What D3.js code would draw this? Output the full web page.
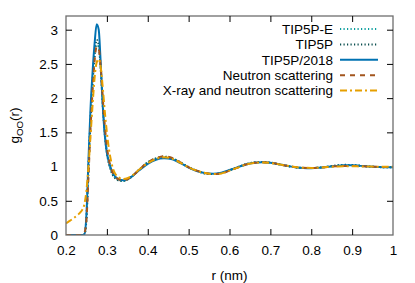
<!DOCTYPE html>
<html><head><meta charset="utf-8">
<script src="https://cdn.jsdelivr.net/npm/d3@7"></script>
<style>body{margin:0;background:#fff}svg{display:block}text{font-family:"Liberation Sans",Arial,sans-serif}</style>
</head><body>
<script>
const rValues = [0.20,0.21,0.22,0.23,0.235,0.24,0.245,0.25,0.255,0.26,0.265,0.27,0.275,0.28,0.285,0.29,0.295,0.30,0.305,0.31,0.315,0.32,0.33,0.34,0.35,0.36,0.38,0.40,0.42,0.44,0.46,0.48,0.50,0.52,0.54,0.56,0.58,0.60,0.62,0.64,0.66,0.68,0.70,0.72,0.74,0.76,0.78,0.80,0.82,0.84,0.86,0.88,0.90,0.92,0.94,0.96,0.98,1.00];
const tip5pE = [0,0,0,0,0,0,0.01,0.22,0.95,1.65,2.2,2.6,2.78,2.74,2.42,1.9,1.5,1.22,1.05,0.95,0.88,0.84,0.8,0.79,0.81,0.85,0.96,1.06,1.12,1.14,1.12,1.06,0.99,0.94,0.9,0.89,0.905,0.945,0.99,1.035,1.06,1.065,1.055,1.035,1.01,0.99,0.98,0.978,0.985,0.998,1.012,1.02,1.02,1.012,1.0,0.995,0.99,0.99];
const tip5p = [0,0,0,0,0,0,0.01,0.25,1.0,1.7,2.25,2.65,2.85,2.78,2.42,1.88,1.47,1.2,1.04,0.94,0.87,0.83,0.795,0.79,0.81,0.85,0.96,1.06,1.12,1.145,1.12,1.06,0.99,0.94,0.9,0.89,0.905,0.945,0.99,1.035,1.06,1.068,1.058,1.036,1.012,0.99,0.98,0.978,0.985,0.998,1.015,1.025,1.022,1.012,1.0,0.995,0.99,0.99];
const tip5p2018 = [0,0,0,0,0,0,0.01,0.3,1.1,1.85,2.38,2.8,3.08,3.0,2.5,1.88,1.45,1.2,1.07,0.97,0.9,0.855,0.81,0.80,0.815,0.85,0.95,1.04,1.1,1.12,1.105,1.05,0.985,0.935,0.905,0.895,0.91,0.95,0.99,1.03,1.055,1.063,1.055,1.035,1.01,0.99,0.979,0.976,0.983,0.996,1.01,1.02,1.02,1.01,1.0,0.995,0.99,0.99];
const neutron = [0,0,0,0,0,0.005,0.03,0.22,0.85,1.55,2.1,2.55,2.75,2.72,2.45,2.0,1.6,1.3,1.1,0.98,0.9,0.855,0.81,0.80,0.815,0.85,0.96,1.06,1.12,1.15,1.125,1.06,0.99,0.94,0.905,0.89,0.9,0.94,0.985,1.03,1.055,1.062,1.055,1.035,1.012,0.993,0.982,0.98,0.985,0.995,1.005,1.01,1.01,1.005,1.0,0.997,0.995,0.995];
const xray = [0.17,0.21,0.25,0.3,0.33,0.37,0.45,0.65,1.0,1.45,1.9,2.3,2.52,2.57,2.45,2.15,1.8,1.5,1.26,1.09,0.97,0.9,0.84,0.82,0.83,0.86,0.96,1.05,1.11,1.135,1.115,1.055,0.99,0.94,0.905,0.89,0.9,0.94,0.985,1.028,1.052,1.06,1.052,1.033,1.012,0.994,0.983,0.98,0.984,0.993,1.0,1.005,1.005,1.002,1.0,0.998,0.997,0.997];
const seriesNames = ["TIP5P-E","TIP5P","TIP5P/2018","Neutron scattering","X-ray and neutron scattering"];
const xTicks = [0.2,0.3,0.4,0.5,0.6,0.7,0.8,0.9,1];
const yTicks = [0,0.5,1,1.5,2,2.5,3];

const series = [
  {name:seriesNames[0], values:tip5pE, color:"#0a9e9e", dash:"1.2,2.3", w:2},
  {name:seriesNames[1], values:tip5p, color:"#0a4f4f", dash:"1.2,2.3", w:2},
  {name:seriesNames[2], values:tip5p2018, color:"#0072b2", dash:null, w:2},
  {name:seriesNames[3], values:neutron, color:"#a3561e", dash:"5,5", w:2},
  {name:seriesNames[4], values:xray, color:"#e69f00", dash:"7,3,2,3", w:2}
];

const W=415,H=283, m={l:66,r:22,t:16,b:48};
const svg=d3.select("body").append("svg").attr("width",W).attr("height",H);
const x=d3.scaleLinear().domain([0.2,1]).range([m.l,W-m.r]);
const y=d3.scaleLinear().domain([0,3.2]).range([H-m.b,m.t]);
const fs=13.5;

// clip
svg.append("clipPath").attr("id","c").append("rect")
  .attr("x",m.l).attr("y",m.t).attr("width",W-m.r-m.l).attr("height",H-m.b-m.t);

const line=d3.line().x((d,i)=>x(rValues[i])).y(d=>y(d)).curve(d3.curveMonotoneX);
const g=svg.append("g").attr("clip-path","url(#c)");
series.forEach(s=>{
  g.append("path").attr("d",line(s.values)).attr("fill","none")
   .attr("stroke",s.color).attr("stroke-width",s.w)
   .attr("stroke-dasharray",s.dash).attr("stroke-linejoin","round");
});

// border
svg.append("rect").attr("x",m.l).attr("y",m.t).attr("width",W-m.r-m.l).attr("height",H-m.b-m.t)
  .attr("fill","none").attr("stroke","#6e6e6e").attr("stroke-width",1.3);

// axes (ticks inward, mirrored)
const axB=d3.axisBottom(x).tickValues(xTicks).tickSize(-6).tickPadding(10).tickFormat(d3.format("~g"));
const axT=d3.axisTop(x).tickValues(xTicks).tickSize(-6).tickFormat("");
const axL=d3.axisLeft(y).tickValues(yTicks).tickSize(-6).tickPadding(8).tickFormat(d3.format("~g"));
const axR=d3.axisRight(y).tickValues(yTicks).tickSize(-6).tickFormat("");
[[axB,`translate(0,${H-m.b})`],[axT,`translate(0,${m.t})`],[axL,`translate(${m.l},0)`],[axR,`translate(${W-m.r},0)`]].forEach(([a,t])=>{
  const gg=svg.append("g").attr("transform",t).call(a);
  gg.select(".domain").remove();
  gg.selectAll(".tick line").attr("stroke","#000").attr("stroke-width",1);
  gg.selectAll("text").attr("font-size",fs).attr("fill","#000").attr("font-family","Liberation Sans, Arial, sans-serif");
});
// remove first/last ticks that overlap borders on mirrored axes
svg.selectAll(".tick").filter(d=>d===0.2||d===1||d===0).select("line").remove();

// axis labels
svg.append("text").attr("x",(m.l+W-m.r)/2).attr("y",280).attr("text-anchor","middle")
  .attr("font-size",fs).text("r (nm)");
const yl=svg.append("text").attr("transform",`translate(19,${(m.t+H-m.b)/2}) rotate(-90)`)
  .attr("text-anchor","middle").attr("font-size",fs);
yl.append("tspan").text("g");
yl.append("tspan").attr("font-size",fs*0.72).attr("dy",4).text("OO");
yl.append("tspan").attr("dy",-4).text("(r)");

// legend
const lg=svg.append("g");
series.forEach((s,i)=>{
  const yy=29+15.4*i;
  lg.append("text").attr("x",333).attr("y",yy).attr("dy","0.35em").attr("text-anchor","end")
    .attr("font-size",fs).text(s.name);
  lg.append("line").attr("x1",340).attr("x2",378).attr("y1",yy).attr("y2",yy)
    .attr("stroke",s.color).attr("stroke-width",s.w).attr("stroke-dasharray",s.dash);
});
</script>
</body></html>
